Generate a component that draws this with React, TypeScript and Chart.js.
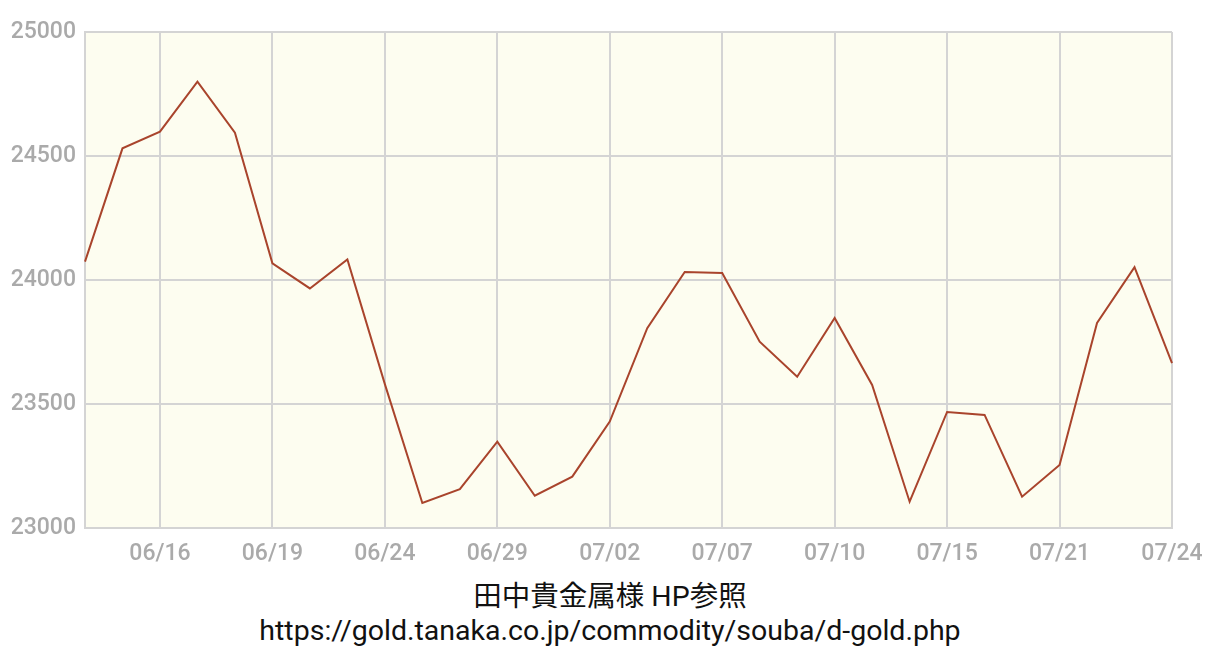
import React, { useEffect, useRef } from "react";
import { Chart, registerables } from "chart.js";

Chart.register(...registerables);

// trading days (only every third one is labelled on the axis)
const dates = [
  "06/14", "06/15", "06/16", "06/17", "06/18", "06/19", "06/20", "06/21",
  "06/24", "06/25", "06/26", "06/29", "06/30", "07/01", "07/02", "07/03",
  "07/04", "07/07", "07/08", "07/09", "07/10", "07/11", "07/14", "07/15",
  "07/16", "07/17", "07/21", "07/22", "07/23", "07/24",
];

// gold price, yen per gram
const prices = [
  24074, 24531, 24598, 24800, 24594, 24067, 23966, 24083,
  23580, 23101, 23157, 23348, 23130, 23207, 23429, 23806,
  24032, 24028, 23751, 23610, 23847, 23577, 23106, 23468,
  23456, 23126, 23254, 23827, 24052, 23665,
];

const yMin = 23000;
const yMax = 25000;
const yStep = 500;

const sourceLines = [
  "田中貴金属様 HP参照",
  "https://gold.tanaka.co.jp/commodity/souba/d-gold.php",
];

const isLabelled = (i: number) => (i - 2) % 3 === 0;

const plotBg = {
  id: "plotBg",
  beforeDraw(chart: any) {
    const { ctx, chartArea } = chart;
    ctx.save();
    ctx.fillStyle = "#fdfdf0";
    ctx.fillRect(chartArea.left, chartArea.top, chartArea.width, chartArea.height);
    ctx.restore();
  },
};

export default function App() {
  const canvasRef = useRef<HTMLCanvasElement>(null);
  const chartRef = useRef<Chart | null>(null);

  useEffect(() => {
    document.body.style.margin = "0";
    if (canvasRef.current && !chartRef.current) {
      chartRef.current = new Chart(canvasRef.current, {
        type: "line",
        data: {
          labels: dates,
          datasets: [
            {
              data: prices,
              borderColor: "#a9442c",
              borderWidth: 2,
              pointRadius: 0,
              tension: 0,
              fill: false,
            },
          ],
        },
        options: {
          animation: false,
          responsive: true,
          maintainAspectRatio: false,
          layout: { padding: { top: 32, right: 48, left: 0, bottom: 0 } },
          plugins: {
            legend: { display: false },
            tooltip: { enabled: false },
          },
          scales: {
            x: {
              afterFit(scale: any) {
                scale.height = 52;
              },
              grid: {
                color: (ctx: any) => (isLabelled(ctx.index) ? "#d4d4d4" : "rgba(0,0,0,0)"),
                lineWidth: 2,
                drawTicks: false,
              },
              border: { color: "#d4d4d4", width: 2 },
              ticks: {
                autoSkip: false,
                maxRotation: 0,
                padding: 12,
                color: "#aaaaaa",
                font: { family: "Roboto", size: 23, weight: "500" },
                callback: (_v: any, i: number) => (isLabelled(i) ? dates[i] : ""),
              },
            },
            y: {
              min: yMin,
              max: yMax,
              afterFit(scale: any) {
                scale.width = 85;
              },
              grid: { color: "#d4d4d4", lineWidth: 2, drawTicks: false },
              border: { color: "#d4d4d4", width: 2 },
              ticks: {
                stepSize: yStep,
                padding: 9,
                color: "#aaaaaa",
                font: { family: "Roboto", size: 23, weight: "500" },
                callback: (v: any) => String(v),
              },
            },
          },
        },
        plugins: [plotBg],
      });
    }
    return () => {
      if (chartRef.current) {
        chartRef.current.destroy();
        chartRef.current = null;
      }
    };
  }, []);

  return (
    <div style={{ width: 1220, background: "#fff" }}>
      <div style={{ position: "relative", width: 1220, height: 580 }}>
        <canvas ref={canvasRef} />
      </div>
      <div
        style={{
          textAlign: "center",
          fontFamily: "Roboto, 'Noto Sans CJK JP', sans-serif",
          fontSize: 28.5,
          lineHeight: "34px",
          color: "#111",
        }}
      >
        {sourceLines.map((t) => (
          <div key={t}>{t}</div>
        ))}
      </div>
    </div>
  );
}
